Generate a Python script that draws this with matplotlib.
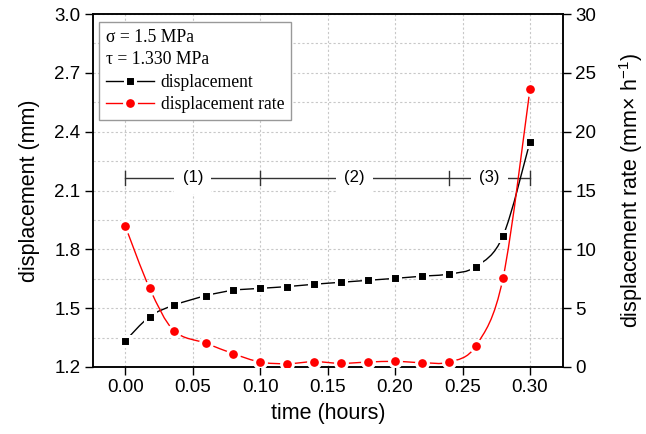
import numpy as np
import matplotlib
matplotlib.use("Agg")
import matplotlib.pyplot as plt
from matplotlib.path import Path
from matplotlib.patches import PathPatch
from matplotlib.lines import Line2D
from matplotlib.ticker import MultipleLocator, FormatStrFormatter

# time (hours)
t = [0.0, 0.018, 0.036, 0.06, 0.08, 0.10, 0.12, 0.14, 0.16, 0.18, 0.20, 0.22, 0.24, 0.26, 0.28, 0.30]
# displacement (mm)
disp = [1.334, 1.457, 1.515, 1.564, 1.591, 1.601, 1.610, 1.622, 1.632, 1.642, 1.652, 1.663, 1.674, 1.712, 1.868, 2.348]
# displacement rate (mm/h)
rate = [11.95, 6.69, 3.09, 2.01, 1.13, 0.42, 0.28, 0.45, 0.31, 0.42, 0.48, 0.37, 0.42, 1.81, 7.54, 23.6]

# creep stages
stage_bounds = [0.0, 0.10, 0.24, 0.30]
stage_labels = ['(1)', '(2)', '(3)']
stage_y = 2.165

plt.rcParams['font.family'] = ['Liberation Sans', 'DejaVu Sans']
plt.rcParams['mathtext.fontset'] = 'custom'
plt.rcParams['mathtext.rm'] = 'Liberation Sans'
plt.rcParams['mathtext.it'] = 'Liberation Sans:italic'


def smooth_path(x, y):
    # Catmull-Rom style bezier through the points
    x = np.asarray(x, float)
    y = np.asarray(y, float)
    n = len(x)
    verts = [(x[0], y[0])]
    codes = [Path.MOVETO]
    for i in range(n - 1):
        i0 = max(i - 1, 0)
        i3 = min(i + 2, n - 1)
        c1 = (x[i] + (x[i + 1] - x[i0]) / 6, y[i] + (y[i + 1] - y[i0]) / 6)
        c2 = (x[i + 1] - (x[i3] - x[i]) / 6, y[i + 1] - (y[i3] - y[i]) / 6)
        verts += [c1, c2, (x[i + 1], y[i + 1])]
        codes += [Path.CURVE4] * 3
    return Path(verts, codes)


fig = plt.figure(figsize=(6.46, 4.34), dpi=100)
ax = fig.add_axes([0.144, 0.1544, 0.7275, 0.8133])
ax2 = ax.twinx()

ax.set_xlim(-0.024, 0.3245)
ax.set_ylim(1.2, 3.0)
ax2.set_ylim(0, 30)

ax.xaxis.set_major_locator(MultipleLocator(0.05))
ax.xaxis.set_major_formatter(FormatStrFormatter('%.2f'))
ax.yaxis.set_major_locator(MultipleLocator(0.3))
ax.yaxis.set_minor_locator(MultipleLocator(0.15))
ax.yaxis.set_major_formatter(FormatStrFormatter('%.1f'))
ax2.yaxis.set_major_locator(MultipleLocator(5))

grid_kw = dict(color='#c8c8c8', linestyle=(0, (2, 2)), linewidth=0.8)
ax.grid(True, axis='x', which='major', **grid_kw)
ax.grid(True, axis='y', which='both', **grid_kw)
ax.set_axisbelow(True)

for a in (ax, ax2):
    a.tick_params(axis='both', which='major', direction='out', length=6, width=1,
                  labelsize=13.5, colors='black', pad=3)
    a.tick_params(axis='both', which='minor', length=0)
    for s in a.spines.values():
        s.set_linewidth(1.1)
ax.tick_params(top=False)
ax2.tick_params(left=False)

# stage annotation
ax.plot([stage_bounds[0], stage_bounds[-1]], [stage_y, stage_y], color='#333333', lw=1.0, zorder=2)
for b in stage_bounds:
    ax.plot([b, b], [stage_y - 0.035, stage_y + 0.035], color='#333333', lw=1.0, zorder=2)
for i, lab in enumerate(stage_labels):
    xm = (stage_bounds[i] + stage_bounds[i + 1]) / 2
    ax.text(xm, stage_y, lab, ha='center', va='center', fontsize=12, zorder=2.5,
            bbox=dict(facecolor='white', edgecolor='none', pad=6))

# displacement
ax.add_patch(PathPatch(smooth_path(t, disp), facecolor='none', edgecolor='black', lw=1.0, zorder=3))
ax.plot(t, disp, ls='none', marker='s', ms=7.5, mfc='black', mec='white', mew=2.2, zorder=4)

# displacement rate
ax2.add_patch(PathPatch(smooth_path(t, rate), facecolor='none', edgecolor='red', lw=1.0, zorder=3))
ax2.plot(t, rate, ls='none', marker='o', ms=8.5, mfc='red', mec='white', mew=2.2, zorder=4)

ax.set_xlabel('time (hours)', fontsize=15.5, labelpad=5)
ax.set_ylabel('displacement (mm)', fontsize=15.5, labelpad=10)
ax2.set_ylabel('displacement rate (mm\u00d7 h$^{-1}$)', fontsize=15.5, labelpad=15)

h1 = Line2D([], [], color='black', lw=1.0, marker='s', ms=7.5, mfc='black', mec='white', mew=2.2)
h2 = Line2D([], [], color='red', lw=1.0, marker='o', ms=8.5, mfc='red', mec='white', mew=2.2)
leg = ax2.legend([h1, h2], ['displacement', 'displacement rate'],
                 title='\u03c3 = 1.5 MPa\n\u03c4 = 1.330 MPa', alignment='left',
                 loc='upper left', bbox_to_anchor=(0.0128, 0.977), borderaxespad=0,
                 prop={'family': 'Liberation Serif', 'size': 12.7},
                 title_fontproperties={'family': 'Liberation Serif', 'size': 12.7},
                 handlelength=2.7, handletextpad=0.4, labelspacing=0.3,
                 fancybox=False, framealpha=1, edgecolor='#999999', borderpad=0.4)
leg.get_frame().set_linewidth(1.0)
leg.get_title().set_linespacing(1.4)

fig.savefig('out.png', dpi=100)
